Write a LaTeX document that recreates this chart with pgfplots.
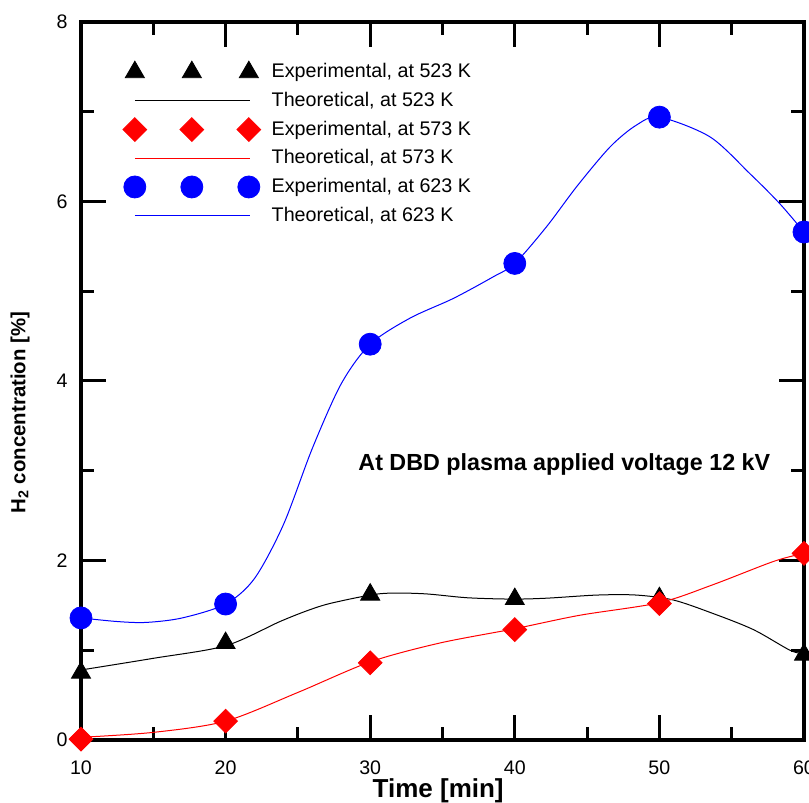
\documentclass[border=0pt]{standalone}
\usepackage{pgfplots}
\pgfplotsset{compat=1.18}
\usepackage{fontspec}
\setmainfont{Liberation Sans}

\pgfplotsset{
  exp legend/.style={legend image code/.code={%
    \draw[##1, only marks] plot coordinates {(0pt,0pt) (28.5pt,0pt) (57pt,0pt)};}},
  theo legend/.style={legend image code/.code={%
    \draw[##1, #1, line width=0.45pt] (0pt,0pt) -- (57.5pt,0pt);}},
}

\begin{document}
\begin{tikzpicture}
\path[use as bounding box] (-40.5pt,-31.5pt) rectangle (364pt,370pt);
\clip (-40.5pt,-31.5pt) rectangle (364pt,370pt);
\begin{axis}[
  scale only axis,
  width=361.5pt, height=359pt,
  xmin=10, xmax=60, ymin=0, ymax=8,
  xtick={10,20,...,60}, ytick={0,2,...,8},
  minor x tick num=1, minor y tick num=1,
  tick align=inside,
  major tick length=12.5pt, minor tick length=6.5pt,
  every tick/.style={black, line width=1.5pt},
  axis line style={line width=2pt},
  /pgf/number format/assume math mode=true,
  ticklabel style={font=\fontsize{9.8}{11}\selectfont, inner sep=0pt},
  xticklabel style={yshift=-10pt},
  yticklabel style={xshift=-6.5pt},
  xlabel={Time [min]},
  ylabel={H\textsubscript{2} concentration [\%]},
  xlabel style={font=\bfseries\fontsize{13}{15}\selectfont,
    at={(axis description cs:0.494,0)}, anchor=base, yshift=-28.6pt, inner sep=0pt},
  ylabel style={font=\bfseries\fontsize{10.2}{12}\selectfont,
    at={(axis description cs:-0.0844,0.456)}, anchor=center, inner sep=0pt},
  legend style={draw=none, fill=none, inner sep=0pt,
    at={(axis description cs:0.0575,0.946)}, anchor=north west,
    font=\fontsize{9.85}{11}\selectfont,
    row sep={14.35pt,between origins}, column sep=5.5pt,
    nodes={inner sep=0pt}},
  legend cell align=left,
]
% 523 K
\addplot[only marks, mark=triangle*, mark size=5.5pt, black, exp legend]
  coordinates {(10,0.75) (20,1.08) (30,1.62) (40,1.57) (50,1.58) (60,0.95)};
\addlegendentry{Experimental, at 523 K}
\addplot[black, line width=0.5pt, smooth, no marks, theo legend=black]
  coordinates {(10,0.78) (15,0.91) (20,1.05) (23.76,1.32) (25.8,1.45) (27.45,1.53)
    (30.7,1.63) (33.65,1.63) (36.7,1.585) (39.8,1.57) (42.2,1.58) (45.7,1.615)
    (48.4,1.615) (50.96,1.56) (53.7,1.41) (56.5,1.23) (59.03,1.00) (60,0.96)};
\addlegendentry{Theoretical, at 523 K}
% 573 K
\addplot[only marks, mark=square*, mark options={rotate=45}, mark size=4.2pt, red, exp legend]
  coordinates {(10,0.01) (20,0.21) (30,0.86) (40,1.23) (50,1.52) (60,2.08)};
\addlegendentry{Experimental, at 573 K}
\addplot[red, line width=0.5pt, smooth, no marks, theo legend=red]
  coordinates {(10,0.03) (15,0.085) (20,0.21) (25,0.53) (30,0.87)
    (34.8,1.08) (40,1.24) (44.5,1.39) (50,1.53) (53.7,1.73) (57.9,1.99) (60,2.08)};
\addlegendentry{Theoretical, at 573 K}
% 623 K
\addplot[only marks, mark=*, mark size=5.5pt, blue, exp legend]
  coordinates {(10,1.36) (20,1.515) (30,4.41) (40,5.31) (50,6.94) (60,5.66)};
\addlegendentry{Experimental, at 623 K}
\addplot[blue, line width=0.5pt, smooth, no marks, theo legend=blue]
  coordinates {(10,1.36) (12.5,1.32) (14.5,1.31) (17,1.36) (20,1.515) (22,1.80)
    (24,2.40) (26,3.25) (28,3.97) (30,4.41)
    (32.75,4.70) (35.75,4.92) (38.5,5.16) (40,5.31) (42.2,5.72) (44.3,6.17)
    (46.6,6.61) (48.4,6.85) (50,6.94) (53.5,6.72) (56.26,6.31)
    (58.3,5.98) (60,5.66)};
\addlegendentry{Theoretical, at 623 K}

\node[anchor=base west, inner sep=0pt, font=\bfseries\fontsize{11.65}{13}\selectfont]
  at (axis cs:29.16,3.0) {At DBD plasma applied voltage 12 kV};
\end{axis}
\end{tikzpicture}
\end{document}
